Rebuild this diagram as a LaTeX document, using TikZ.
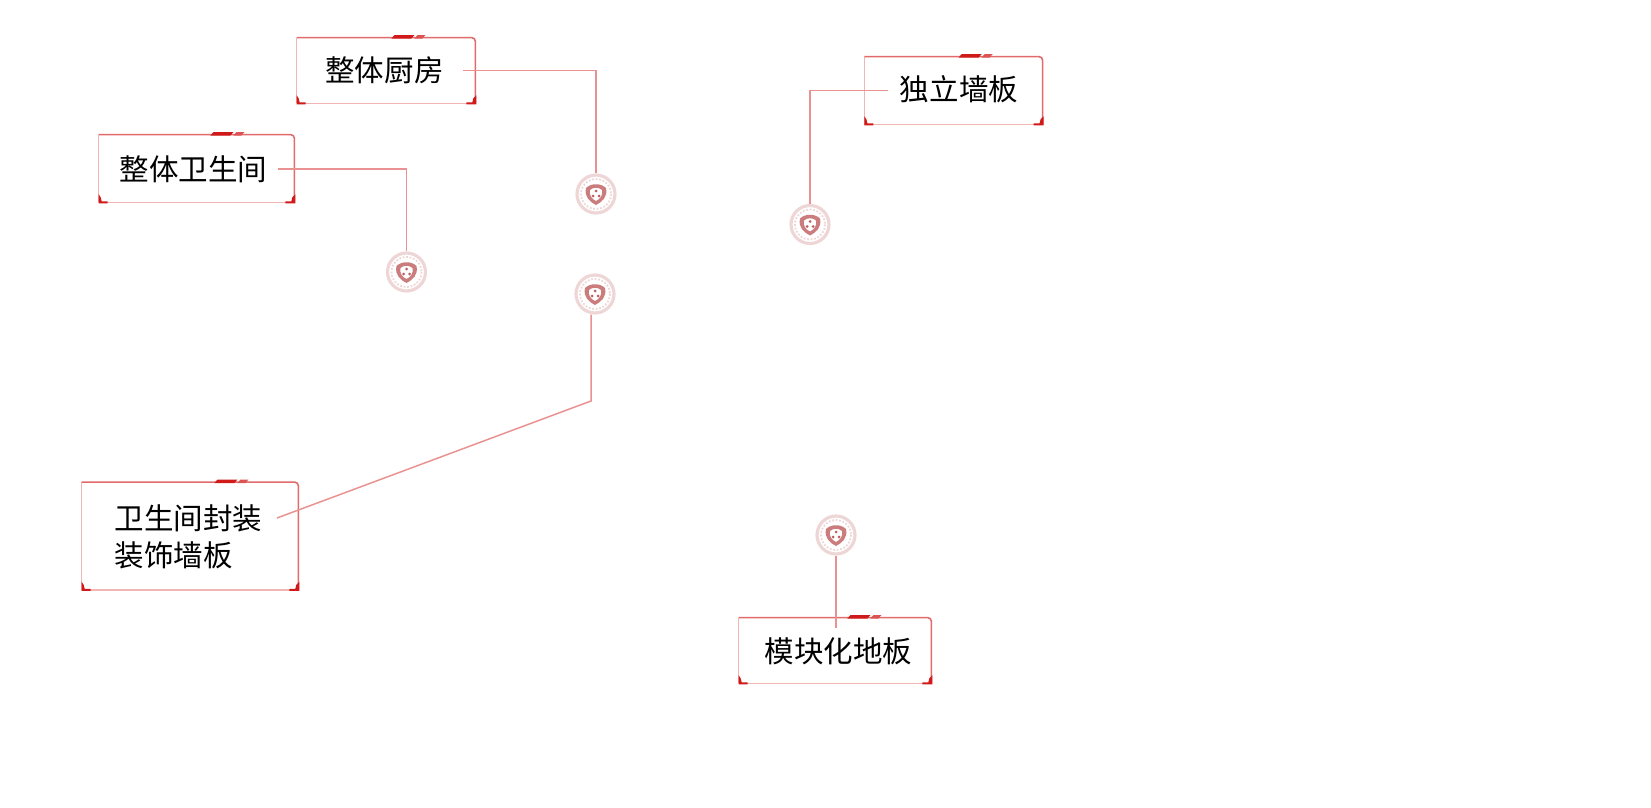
\documentclass[tikz,border=0pt]{standalone}
\usepackage{fontspec}
\setmainfont{Noto Sans CJK SC}
\usepackage{tikz}
\usetikzlibrary{calc}
\definecolor{linered}{RGB}{234,146,146}
\definecolor{edgered}{RGB}{226,106,106}
\definecolor{palered}{RGB}{243,180,180}
\definecolor{tabred}{RGB}{208,26,26}
\definecolor{ringred}{RGB}{238,214,214}
\definecolor{shieldred}{RGB}{190,92,92}
\tikzstyle{labelbox} = [rectangle, inner sep = 0pt]
\tikzstyle{labeltext} = [inner sep = 0pt, align = left, font = \fontsize{16.8pt}{21pt}\selectfont]
\tikzstyle{badge} = [circle, minimum size = 0.76cm, inner sep = 0pt, fill = white, draw = ringred, line width = 1.8pt]
\tikzstyle{arrow} = [draw = linered, line width = 0.85pt]

\begin{document}
\begin{tikzpicture}[x = 0.02cm, y = -0.02cm]
    \useasboundingbox (0,0) rectangle (1651,808);

    \node (kitchen-box) [labelbox, minimum width = 3.56cm, minimum height = 1.3cm] at (386,70.5) {};
    \node (bath-box) [labelbox, minimum width = 3.9cm, minimum height = 1.34cm] at (196.5,168.5) {};
    \node (wall-box) [labelbox, minimum width = 3.55cm, minimum height = 1.34cm] at (953.5,90.5) {};
    \node (panel-box) [labelbox, minimum width = 4.32cm, minimum height = 2.14cm] at (190,536) {};
    \node (floor-box) [labelbox, minimum width = 3.84cm, minimum height = 1.3cm] at (835,650.5) {};

    \node (kitchen) [labeltext] at (384.5,70) {整体厨房};
    \node (bath) [labeltext] at (193.5,169) {整体卫生间};
    \node (wall) [labeltext] at (959,89.5) {独立墙板};
    \node (panel) [labeltext] at (188.5,537) {卫生间封装\\装饰墙板};
    \node (floor) [labeltext] at (838.5,651) {模块化地板};

    \node (kitchen-badge) [badge] at (596,194) {};
    \node (bath-badge) [badge] at (406.5,272) {};
    \node (panel-badge) [badge] at (595,294) {};
    \node (wall-badge) [badge] at (810,224.5) {};
    \node (floor-badge) [badge] at (836,535) {};

    \foreach \n in {kitchen-box, bath-box, wall-box, panel-box, floor-box} {
        \draw [palered, line width = 0.5pt] (\n.north west) -- (\n.south west);
        \draw [palered, line width = 0.9pt] (\n.south west) -- (\n.south east);
        \draw [edgered, line width = 0.9pt, rounded corners = 2pt] (\n.north west) -- (\n.north east) -- (\n.south east);
        \fill [tabred] ($(\n.north east)+(-84,1)$) -- ($(\n.north east)+(-81,-2.5)$) -- ($(\n.north east)+(-61,-2.5)$) -- ($(\n.north east)+(-64,1)$) -- cycle;
        \fill [tabred!75] ($(\n.north east)+(-61,1)$) -- ($(\n.north east)+(-58,-2.5)$) -- ($(\n.north east)+(-50,-2.5)$) -- ($(\n.north east)+(-53,1)$) -- cycle;
        \fill [tabred] ($(\n.south west)+(0,-8)$) -- ($(\n.south west)+(2,-5)$) -- ($(\n.south west)+(3,-1)$) -- ($(\n.south west)+(9,-1)$) -- ($(\n.south west)+(9,1)$) -- ($(\n.south west)+(0,1)$) -- cycle;
        \fill [tabred] ($(\n.south east)+(1,-8)$) -- ($(\n.south east)+(-2,-5)$) -- ($(\n.south east)+(-3,-1)$) -- ($(\n.south east)+(-9,-1)$) -- ($(\n.south east)+(-9,1)$) -- ($(\n.south east)+(1,1)$) -- cycle;
    }

    \foreach \n in {kitchen-badge, bath-badge, panel-badge, wall-badge, floor-badge} {
        \draw [ringred, line width = 1pt, densely dotted] (\n.center) circle (15);
        \fill [shieldred!80, even odd rule] ($(\n.center)+(-10,-6)$) .. controls ($(\n.center)+(-5,-11)$) and ($(\n.center)+(5,-11)$) .. ($(\n.center)+(10,-6)$) .. controls ($(\n.center)+(12,3)$) and ($(\n.center)+(6,8)$) .. ($(\n.center)+(0,11)$) .. controls ($(\n.center)+(-6,8)$) and ($(\n.center)+(-12,3)$) .. cycle
            ($(\n.center)+(-6,-4)$) .. controls ($(\n.center)+(-3,-7)$) and ($(\n.center)+(3,-7)$) .. ($(\n.center)+(6,-4)$) .. controls ($(\n.center)+(7,2)$) and ($(\n.center)+(4,5)$) .. ($(\n.center)+(0,7)$) .. controls ($(\n.center)+(-4,5)$) and ($(\n.center)+(-7,2)$) .. cycle;
        \fill [shieldred] ($(\n.center)+(0,-3)$) circle (1.5) ($(\n.center)+(-3,2)$) circle (1.5) ($(\n.center)+(3,2)$) circle (1.5);
    }

    \coordinate (kitchen-tip) at (463,70.5);
    \coordinate (bath-tip) at (278,169);
    \coordinate (wall-tip) at (888,90.5);
    \coordinate (panel-tip) at (277,518);
    \coordinate (panel-bend) at (591,401);
    \coordinate (floor-tip) at (836,628);

    \draw [arrow] (kitchen-tip) -| (kitchen-badge.north);
    \draw [arrow] (bath-tip) -| (bath-badge.north);
    \draw [arrow] (wall-tip) -| (wall-badge.north);
    \draw [arrow] (panel-tip) -- (panel-bend) -- (panel-bend |- panel-badge.south);
    \draw [arrow] (floor-badge.south) -- (floor-tip);
\end{tikzpicture}
\end{document}
